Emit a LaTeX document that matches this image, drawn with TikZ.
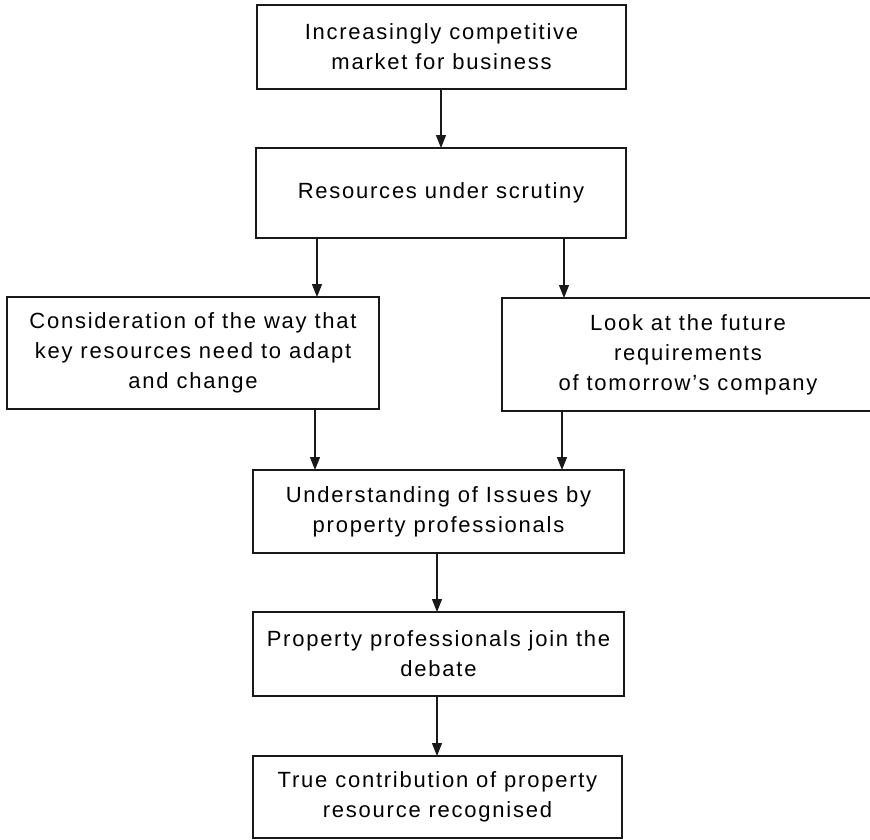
\documentclass[tikz,border=0pt]{standalone}
\usepackage{fontspec}
\setmainfont{Liberation Sans}[LetterSpace=8]
\usetikzlibrary{arrows.meta}
\begin{document}
\begin{tikzpicture}[x=1pt,y=-1pt,
  box/.style={draw=black!90, line width=1.4pt, rectangle, inner sep=0pt, outer sep=0pt,
    align=center, font=\fontsize{22pt}{30pt}\selectfont},
  arr/.style={draw=black!90, line width=1.2pt, -{Triangle[length=13pt,width=10pt]}}]
\useasboundingbox (0,0) rectangle (870,839);
\clip (0,0) rectangle (870,839);

% boxes
\node[box, minimum width=369pt, minimum height=84pt] (b1) at (441.5,47)
  {Increasingly competitive\\market for business};
\node[box, minimum width=370pt, minimum height=90pt] (b2) at (441,193)
  {Resources under scrutiny};
\node[box, minimum width=372pt, minimum height=112pt] (b3) at (193,353)
  {Consideration of the way that\\key resources need to adapt\\and change};
\node[box, minimum width=372pt, minimum height=113pt] (b4) at (688,354.5)
  {Look at the future\\requirements\\of tomorrow's company};
\node[box, minimum width=371pt, minimum height=83pt] (b5) at (438.5,511.5)
  {Understanding of Issues by\\property professionals};
\node[box, minimum width=371pt, minimum height=84pt] (b6) at (438.5,654)
  {Property professionals join the\\debate};
\node[box, minimum width=369pt, minimum height=82pt] (b7) at (437.5,797)
  {True contribution of property\\resource recognised};

% x positions of the connectors
\coordinate (xa) at (441,0);
\coordinate (xb) at (317,0);
\coordinate (xc) at (564,0);
\coordinate (xd) at (315,0);
\coordinate (xe) at (562,0);
\coordinate (xf) at (437,0);

% connectors
\draw[arr] (b1.south -| xa) -- (b2.north -| xa);
\draw[arr] (b2.south -| xb) -- (b3.north -| xb);
\draw[arr] (b2.south -| xc) -- (b4.north -| xc);
\draw[arr] (b3.south -| xd) -- (b5.north -| xd);
\draw[arr] (b4.south -| xe) -- (b5.north -| xe);
\draw[arr] (b5.south -| xf) -- (b6.north -| xf);
\draw[arr] (b6.south -| xf) -- (b7.north -| xf);
\end{tikzpicture}
\end{document}
